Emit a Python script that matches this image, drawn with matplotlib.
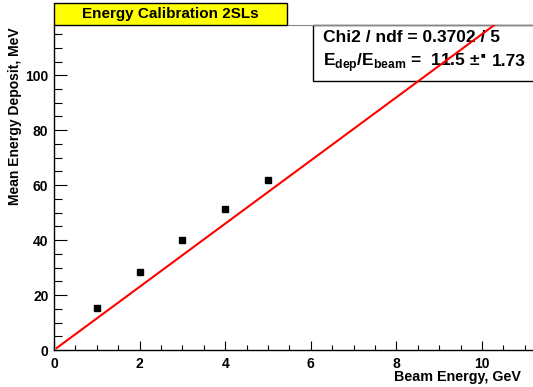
import matplotlib.pyplot as plt
from matplotlib.patches import Rectangle
from matplotlib.ticker import MultipleLocator

plt.rcParams['font.family'] = ['Liberation Sans', 'DejaVu Sans']
plt.rcParams['font.weight'] = 'bold'
plt.rcParams['mathtext.fontset'] = 'custom'
plt.rcParams['mathtext.rm'] = 'Liberation Sans:bold'
plt.rcParams['mathtext.bf'] = 'Liberation Sans:bold'

# measured points
beam_energy = [1, 2, 3, 4, 5]
mean_deposit = [15.3, 28.3, 40.0, 51.4, 61.7]

# linear fit through origin
slope = 11.5
slope_err = 1.73
chi2, ndf = 0.3702, 5
fit_x = [0.06, 11.3]

fig = plt.figure(figsize=(5.33, 3.87), dpi=100)
ax = fig.add_axes([54 / 533, 1 - 350 / 387, 479 / 533, 325 / 387])

ax.plot(fit_x, [slope * x for x in fit_x], color='red', lw=1.5, zorder=4)
ax.plot(beam_energy, mean_deposit, 's', color='black', ms=4.2, zorder=5)

ax.set_xlim(0, 11.19)
ax.set_ylim(0, 118.3)

ax.xaxis.set_major_locator(MultipleLocator(2))
ax.xaxis.set_minor_locator(MultipleLocator(0.5))
ax.yaxis.set_major_locator(MultipleLocator(20))
ax.yaxis.set_minor_locator(MultipleLocator(5))
ax.tick_params(axis='x', which='major', direction='in', length=6.5, width=0.8, labelsize=10, pad=5)
ax.tick_params(axis='x', which='minor', direction='in', length=3.5, width=0.8)
ax.tick_params(axis='y', which='major', direction='in', length=9.5, width=0.8, labelsize=10, pad=4)
ax.tick_params(axis='y', which='minor', direction='in', length=5.8, width=0.8)

ax.spines['right'].set_visible(False)
ax.spines['top'].set_color('#888888')
ax.spines['top'].set_linewidth(0.8)
ax.spines['left'].set_linewidth(1.0)
ax.spines['bottom'].set_linewidth(1.0)

fig.text(15 / 533, 1 - 27 / 387, 'Mean Energy Deposit, MeV', rotation=90,
         ha='center', va='top', fontsize=10, fontweight='bold')
fig.text(521 / 533, 1 - 377 / 387, 'Beam Energy, GeV', ha='right', va='center',
         fontsize=10.3, fontweight='bold')

# title box
fig.patches.append(Rectangle((54 / 533, 1 - 25 / 387), 233 / 533, 22 / 387,
                             transform=fig.transFigure, facecolor='#ffff00',
                             edgecolor='black', lw=1.0))
fig.text((54 + 287) / 2 / 533, 1 - 14 / 387, 'Energy Calibration 2SLs',
         ha='center', va='center', fontsize=11, fontweight='bold')

# stats box (below the fit line, as in the original)
ax.add_patch(Rectangle((313 / 533, 1 - 81 / 387), 240 / 533, 56 / 387,
                       transform=fig.transFigure, facecolor='white',
                       edgecolor='black', lw=1.0, zorder=2.5, clip_on=False))
ax.text(323 / 533, 1 - 38 / 387, f'Chi2 / ndf = {chi2} / {ndf}',
        transform=fig.transFigure, ha='left', va='center', fontsize=12.5,
        fontweight='bold', zorder=3)
ax.text(323 / 533, 1 - 66 / 387,
        r'E$_{\mathrm{dep}}$/E$_{\mathrm{beam}}$ =  ' + f'{slope} ±',
        transform=fig.transFigure, ha='left', va='baseline', fontsize=12.5,
        fontweight='bold', zorder=3)
ax.text(483 / 533, 1 - 55 / 387, '■', transform=fig.transFigure,
        ha='center', va='center', fontsize=3.5, family='DejaVu Sans', zorder=3)
ax.text(492 / 533, 1 - 66 / 387, f'{slope_err}',
        transform=fig.transFigure, ha='left', va='baseline', fontsize=12.5,
        fontweight='bold', zorder=3)

fig.savefig('out.png', dpi=100)
